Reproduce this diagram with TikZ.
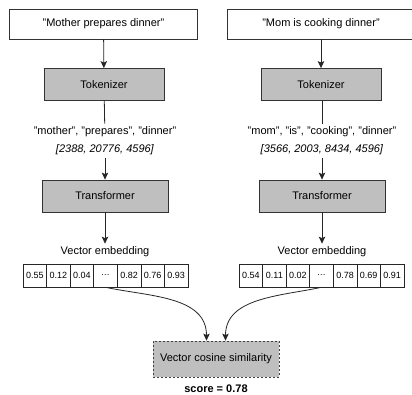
\documentclass[tikz,border=0pt]{standalone}
\usepackage{fontspec}
\setmainfont{Liberation Sans}
\usetikzlibrary{arrows.meta}
\begin{document}
\begin{tikzpicture}[x=1pt,y=1pt,
  font=\fontsize{11}{13}\selectfont,
  textbox/.style={draw=black!80, line width=0.8pt, fill=white, minimum width=188pt, minimum height=30pt, inner sep=0pt},
  stagebox/.style={draw=black!80, line width=0.8pt, fill=black!25, minimum height=32pt, inner sep=0pt},
  lbl/.style={align=center, inner sep=3pt, font=\fontsize{11}{18}\selectfont},
  cell/.style={draw=black!85, line width=0.6pt, minimum width=23.57pt, minimum height=23pt, inner sep=0pt, font=\fontsize{9}{10}\selectfont},
  link/.style={draw=black!85, line width=0.8pt},
  arr/.style={link, -{Stealth[length=7pt,width=6.5pt,inset=1.5pt]}},
]
\useasboundingbox (0,0) rectangle (412,-394);
\clip (0,0) rectangle (412,-394);

% left pipeline
\node[textbox] (srcA) at (103.5,-24) {"Mother prepares dinner"};
\node[stagebox, minimum width=120pt] (tokA) at (104,-84.5) {Tokenizer};
\node[lbl] (tokensA) at (105,-141) {"mother", "prepares", "dinner"\\ \textit{[2388, 20776, 4596]}};
\node[stagebox, minimum width=126pt] (trA) at (105,-196) {Transformer};
\node[lbl] (embA) at (105,-252) {Vector embedding};
\foreach \v [count=\i] in {0.55,0.12,0.04,{\ldots},0.82,0.76,0.93}
  \node[cell] (cA\i) at ({23+11.785+23.57*(\i-1)},-275.5) {\v};

% right pipeline
\node[textbox] (srcB) at (321,-24) {"Mom is cooking dinner"};
\node[stagebox, minimum width=120pt] (tokB) at (321,-84.5) {Tokenizer};
\node[lbl] (tokensB) at (322,-141) {"mom", "is", "cooking", "dinner"\\ \textit{[3566, 2003, 8434, 4596]}};
\node[stagebox, minimum width=126pt] (trB) at (322,-196) {Transformer};
\node[lbl] (embB) at (322,-252) {Vector embedding};
\foreach \v [count=\i] in {0.54,0.11,0.02,{\ldots},0.78,0.69,0.91}
  \node[cell] (cB\i) at ({239+11.785+23.57*(\i-1)},-275.5) {\v};

% similarity stage
\node[stagebox, draw=black!75, dash pattern=on 2pt off 2pt, minimum width=126pt, minimum height=36pt] (sim) at (216,-359) {Vector cosine similarity};
\node[font=\fontsize{11}{13}\selectfont\bfseries] (score) at (216,-389) {score = 0.78};

% connectors
\draw[arr] (srcA) -- (tokA);
\draw[link] (tokA) -- (tokensA);
\draw[arr] (tokensA) -- (trA);
\draw[arr] (trA) -- (embA);
\draw[arr] (srcB.south -| tokB) -- (tokB);
\draw[link] (tokB.south -| tokensB) -- (tokensB);
\draw[arr] (tokensB) -- (trB);
\draw[arr] (trB) -- (embB);
\draw[arr] (cA4.south) to[out=-12,in=90] ([xshift=-9.5pt]sim.north);
\draw[arr] (cB4.south) to[out=192,in=90] ([xshift=9.5pt]sim.north);
\end{tikzpicture}
\end{document}
